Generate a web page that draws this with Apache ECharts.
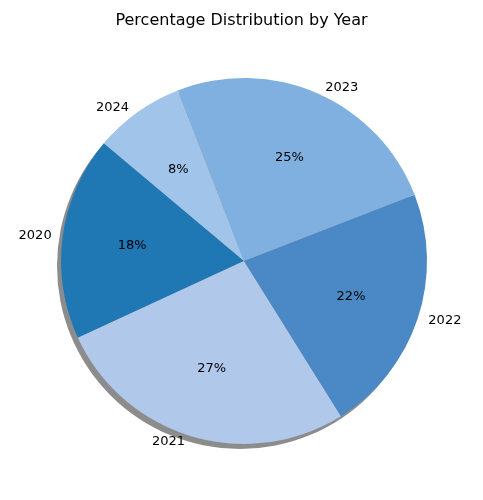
<!DOCTYPE html>
<html>
<head>
<meta charset="utf-8">
<script src="https://cdn.jsdelivr.net/npm/echarts@6/dist/echarts.min.js"></script>
<style>html,body{margin:0;padding:0;background:#fff}#chart{width:483px;height:500px}</style>
</head>
<body>
<div id="chart"></div>
<script>
const years = ['2020', '2021', '2022', '2023', '2024']
const percents = [18, 27, 22, 25, 8]
const colors = ['#1f77b4', '#b0c8ea', '#4a89c6', '#7fb0df', '#a0c4ea']

const font = 'DejaVu Sans'
const center = [244, 261]
const R = 183

let chart = echarts.init(document.getElementById('chart'))
let slices = years.map((y, i) => ({ name: y, value: percents[i], itemStyle: { color: colors[i] } }))

chart.setOption({
  animation: false,
  title: {
    text: 'Percentage Distribution by Year',
    left: 'center', top: 8,
    textStyle: { fontFamily: font, fontSize: 16, fontWeight: 'normal', color: '#000' }
  },
  series: [
    {
      // shadow
      type: 'pie', silent: true, radius: [0, R], center: [center[0] - 4, center[1] + 5],
      data: [{ value: 1, itemStyle: { color: '#000', opacity: 0.45 } }],
      label: { show: false }, labelLine: { show: false }
    },
    {
      type: 'pie', radius: [0, R], center: center, startAngle: 140, clockwise: false,
      data: slices,
      label: { show: true, position: 'outside', formatter: '{b}', fontFamily: font, fontSize: 13, color: '#000' },
      labelLine: { show: false, length: 6, length2: 0 }
    },
    {
      // inner percentage labels at 0.6 R
      type: 'pie', silent: true, radius: [0, R * 1.2], center: center, startAngle: 140, clockwise: false,
      data: slices.map(s => ({ name: s.name, value: s.value, itemStyle: { color: 'rgba(0,0,0,0)' } })),
      label: { show: true, position: 'inside', formatter: '{c}%', fontFamily: font, fontSize: 13, color: '#000' },
      labelLine: { show: false }
    }
  ]
})
</script>
</body>
</html>
